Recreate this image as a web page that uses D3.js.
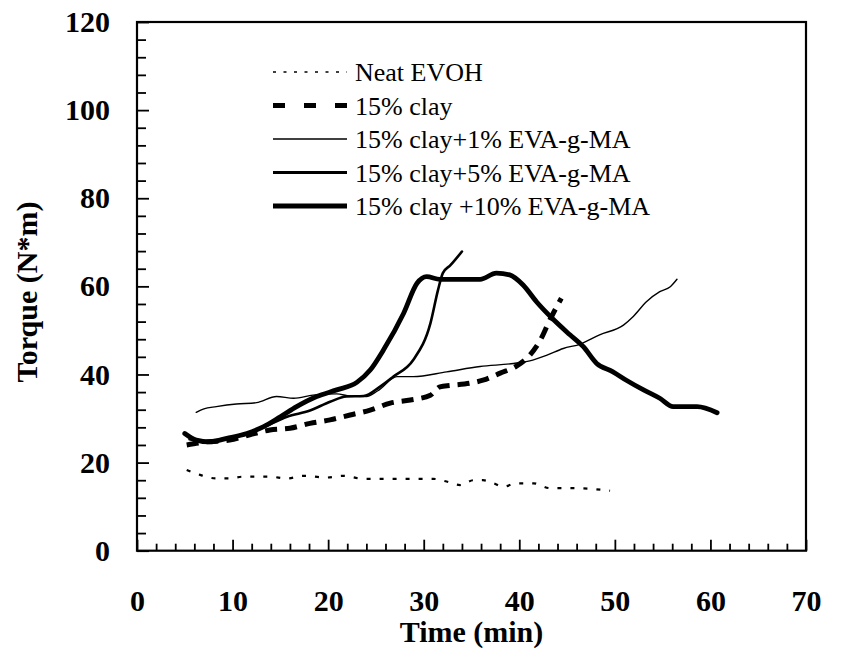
<!DOCTYPE html>
<html>
<head>
<meta charset="utf-8">
<script src="https://cdn.jsdelivr.net/npm/d3@7"></script>
<style>
  html, body { margin: 0; padding: 0; background: #fff; }
  svg { display: block; }
  text { font-family: "Liberation Serif", "Times New Roman", serif; fill: #000; }
</style>
</head>
<body>
<svg id="chart" width="843" height="650"></svg>
<script>
// ---- data ----
const seriesNames = ["Neat EVOH", "15% clay", "15% clay+1% EVA-g-MA", "15% clay+5% EVA-g-MA", "15% clay +10% EVA-g-MA"];

const neatX = [5.2, 6.6, 8.3, 9.7, 11.1, 13.9, 15.7, 17.4, 19.8, 21.6, 23.7, 27.9, 31.0, 32.4, 33.8, 35.2, 36.2, 37.3, 38.3, 39.7, 41.5, 43.2, 45.3, 47.7, 49.5];
const neatY = [18.3, 17.2, 16.4, 16.4, 16.8, 16.8, 16.4, 17.0, 16.6, 17.0, 16.3, 16.3, 16.3, 15.7, 14.9, 16.0, 16.0, 15.3, 14.5, 15.3, 15.3, 14.2, 14.2, 14.0, 13.6];

const clayX = [5.2, 7.3, 9.7, 11.8, 13.9, 16.0, 18.1, 20.2, 22.3, 24.4, 26.5, 28.6, 30.7, 31.7, 32.8, 34.8, 36.2, 38.0, 39.7, 41.1, 42.2, 43.2, 44.4];
const clayY = [24.0, 24.7, 25.1, 26.3, 27.4, 27.8, 28.9, 29.7, 30.8, 31.9, 33.5, 34.2, 35.3, 37.2, 37.5, 38.0, 38.7, 40.3, 41.9, 44.4, 47.8, 52.4, 57.3];

const ma1X = [6.2, 7.0, 8.3, 10.4, 12.5, 14.6, 16.4, 18.4, 20.9, 22.3, 24.0, 25.2, 27.2, 28.9, 32.4, 35.9, 39.4, 41.1, 42.9, 44.6, 46.4, 48.4, 50.9, 51.9, 53.3, 54.7, 55.8, 56.5];
const ma1Y = [31.4, 32.2, 32.7, 33.3, 33.6, 35.0, 34.6, 35.3, 35.6, 35.1, 35.0, 36.3, 39.5, 39.5, 40.6, 41.8, 42.5, 43.1, 44.4, 45.9, 46.9, 49.0, 51.2, 53.1, 56.5, 58.8, 59.9, 61.6];

const ma5X = [5.5, 7.0, 9.0, 11.0, 13.0, 15.7, 18.1, 20.2, 21.9, 23.7, 25.4, 26.8, 28.9, 30.7, 31.5, 32.0, 32.8, 34.0];
const ma5Y = [25.3, 24.8, 25.3, 26.2, 27.8, 30.4, 31.8, 33.8, 35.0, 35.1, 37.2, 39.5, 43.3, 51.6, 59.2, 63.0, 64.8, 67.9];

const ma10X = [5.0, 6.2, 7.6, 9.4, 11.5, 13.2, 15.0, 16.7, 18.8, 20.9, 23.0, 24.4, 25.8, 27.9, 29.3, 30.3, 31.7, 35.9, 37.6, 39.0, 40.4, 41.8, 43.6, 45.3, 46.7, 48.1, 49.8, 51.2, 53.0, 54.7, 56.1, 58.6, 60.7];
const ma10Y = [26.6, 25.1, 24.7, 25.5, 26.6, 28.1, 30.4, 32.7, 35.0, 36.5, 38.2, 41.0, 45.6, 53.9, 60.7, 62.2, 61.6, 61.6, 63.0, 62.6, 60.3, 56.5, 52.4, 49.0, 46.3, 42.5, 40.6, 38.7, 36.5, 34.6, 32.7, 32.7, 31.3];

const xTicks = [0, 10, 20, 30, 40, 50, 60, 70];
const yTicks = [0, 20, 40, 60, 80, 100, 120];

// ---- layout ----
const svg = d3.select("#chart");
const pLeft = 137, pRight = 806, pTop = 22, pBottom = 550.7;
const x = d3.scaleLinear().domain([0, 70]).range([pLeft, pRight]);
const y = d3.scaleLinear().domain([0, 120]).range([pBottom, pTop]);

const styles = [
  { w: 2.2, dash: "4,9", legDash: "3,7.5", legW: 1.6, cap: "butt" },
  { w: 5, dash: "12,8", legDash: "12,19", legW: 5, cap: "butt" },
  { w: 1.4, dash: null, legDash: null, legW: 1.4, cap: "round" },
  { w: 2.6, dash: null, legDash: null, legW: 2.8, cap: "round" },
  { w: 4.8, dash: null, legDash: null, legW: 5, cap: "round" }
];
const series = [
  { xs: neatX, ys: neatY },
  { xs: clayX, ys: clayY },
  { xs: ma1X, ys: ma1Y },
  { xs: ma5X, ys: ma5Y },
  { xs: ma10X, ys: ma10Y }
];

// ---- axes ----
const minorX = d3.range(0, 71, 2).filter(v => v % 10 !== 0);
const minorY = d3.range(0, 121, 4).filter(v => v % 20 !== 0);

const gx = svg.append("g").attr("transform", `translate(0,${pBottom})`);
gx.call(d3.axisBottom(x).tickValues(minorX).tickSize(-7).tickFormat(""));
gx.select(".domain").remove();
const gx2 = svg.append("g").attr("transform", `translate(0,${pBottom})`);
gx2.call(d3.axisBottom(x).tickValues(xTicks).tickSize(-11).tickPadding(40).tickFormat(d3.format("d")));
gx2.select(".domain").remove();
gx2.selectAll("text").attr("dy", "0.71em").attr("y", 39.5)
  .style("font-size", "30px").style("font-weight", "bold");

const gy = svg.append("g").attr("transform", `translate(${pLeft},0)`);
gy.call(d3.axisLeft(y).tickValues(minorY).tickSize(-9).tickFormat(""));
gy.select(".domain").remove();
const gy2 = svg.append("g").attr("transform", `translate(${pLeft},0)`);
gy2.call(d3.axisLeft(y).tickValues(yTicks).tickSize(-12).tickPadding(27).tickFormat(d3.format("d")));
gy2.select(".domain").remove();
gy2.selectAll("text").style("font-size", "30px").style("font-weight", "bold");

svg.selectAll(".tick line").attr("stroke", "#000").attr("stroke-width", 1.8);

// frame
svg.append("rect").attr("x", pLeft).attr("y", pTop)
  .attr("width", pRight - pLeft).attr("height", pBottom - pTop)
  .attr("fill", "none").attr("stroke", "#000").attr("stroke-width", 2.2);

// titles
svg.append("text").attr("x", (pLeft + pRight) / 2).attr("y", 642)
  .attr("text-anchor", "middle").style("font-size", "30px").style("font-weight", "bold")
  .text("Time (min)");
svg.append("text").attr("transform", "translate(37,292) rotate(-90)")
  .attr("text-anchor", "middle").style("font-size", "30px").style("font-weight", "bold")
  .text("Torque (N*m)");

// ---- lines ----
const line = d3.line().x(d => x(d[0])).y(d => y(d[1])).curve(d3.curveMonotoneX);
series.forEach((s, i) => {
  const pts = s.xs.map((v, k) => [v, s.ys[k]]);
  const st = styles[i];
  const p = svg.append("path").datum(pts)
    .attr("d", line)
    .attr("fill", "none").attr("stroke", "#000")
    .attr("stroke-width", st.w)
    .attr("stroke-linecap", st.cap).attr("stroke-linejoin", "round");
  if (st.dash) p.attr("stroke-dasharray", st.dash);
});

// ---- legend ----
const legX0 = 273, legX1 = 347, legText = 355;
seriesNames.forEach((name, i) => {
  const yy = 72 + i * 33.5;
  const st = styles[i];
  const l = svg.append("line").attr("x1", legX0).attr("x2", legX1)
    .attr("y1", yy).attr("y2", yy).attr("stroke", "#000").attr("stroke-width", st.legW);
  if (st.legDash) l.attr("stroke-dasharray", st.legDash);
  svg.append("text").attr("x", legText).attr("y", yy).attr("dy", "0.35em")
    .style("font-size", "26px").text(name);
});
</script>
</body>
</html>
